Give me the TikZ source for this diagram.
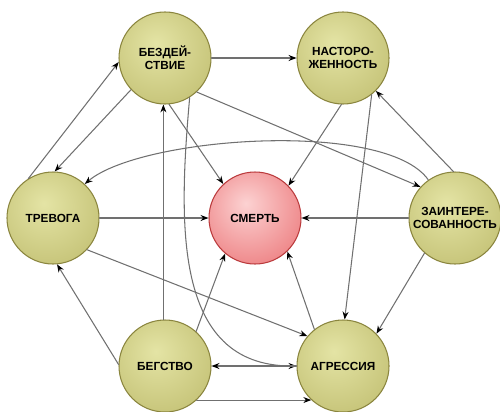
\documentclass[tikz,border=0pt]{standalone}
\usepackage{fontspec}
\setmainfont{Liberation Sans}
\usetikzlibrary{arrows.meta}
\definecolor{olivein}{RGB}{228,228,165}
\definecolor{oliveout}{RGB}{172,168,82}
\definecolor{oliveline}{RGB}{138,133,62}
\definecolor{redin}{RGB}{252,210,210}
\definecolor{redout}{RGB}{226,66,70}
\definecolor{redline}{RGB}{186,58,60}
\definecolor{linkgray}{RGB}{112,112,112}
\pgfdeclareradialshading{oliveorb}{\pgfpoint{-5bp}{8bp}}{color(0bp)=(olivein); color(60bp)=(oliveout); color(80bp)=(oliveout)}
\pgfdeclareradialshading{redorb}{\pgfpoint{-5bp}{8bp}}{color(0bp)=(redin); color(60bp)=(redout); color(80bp)=(redout)}

\begin{document}
\begin{tikzpicture}[line join=round, line cap=round,
		state/.style={circle, minimum size=1.84cm, inner sep=0pt, draw=oliveline, line width=0.6pt, shade, shading=oliveorb, align=center, font=\fontsize{6.7}{7.6}\selectfont\bfseries},
		goal/.style={state, draw=redline, shading=redorb},
		link/.style={draw=linkgray, line width=0.6pt, -{Stealth[length=4.5pt, width=3.4pt, black]}}]
			\useasboundingbox (0,0) rectangle (10,8.22);
			\node[state] (bez) at (3.3,7.06) {БЕЗДЕЙ-\\СТВИЕ};
			\node[state] (nast) at (6.86,7.06) {НАСТОРО-\\ЖЕННОСТЬ};
			\node[state] (trev) at (1.06,3.86) {ТРЕВОГА};
			\node[goal] (smert) at (5.1,3.86) {СМЕРТЬ};
			\node[state] (zain) at (9.1,3.86) {ЗАИНТЕРЕ-\\СОВАННОСТЬ};
			\node[state] (beg) at (3.3,0.9) {БЕГСТВО};
			\node[state] (agr) at (6.86,0.9) {АГРЕССИЯ};
			\draw[link] (bez) -- (nast);
			\draw[link] (trev.122) -- (bez.185);
			\draw[link] (bez.223) -- (trev.88);
			\draw[link] (bez.-85) -- (smert.133);
			\draw[link] (bez.-47) -- (zain.138);
			\draw[link] (bez.-58) to[out=-95, in=180, looseness=1.1] (agr.180);
			\draw[link] (nast.-92) -- (smert.44);
			\draw[link] (nast.-52) -- (agr.88);
			\draw[link] (zain.92) -- (nast.-45);
			\draw[link] (zain) -- (smert);
			\draw[link] (zain.-131) -- (agr.44);
			\draw[link] (zain.125) to[out=125, in=40, looseness=0.55] (trev.47);
			\draw[link] (trev) -- (smert);
			\draw[link] (trev.-43) -- (agr.140);
			\draw[link] (beg.178) -- (trev.-85);
			\draw[link] (beg.92) -- (bez.-92);
			\draw[link] (beg.48) -- (smert.-130);
			\draw[link] (agr.128) -- (smert.-46);
			\draw[link] (agr) -- (beg);
			\draw[link] (beg.-47) -- (agr.-133);
		\end{tikzpicture}
\end{document}
